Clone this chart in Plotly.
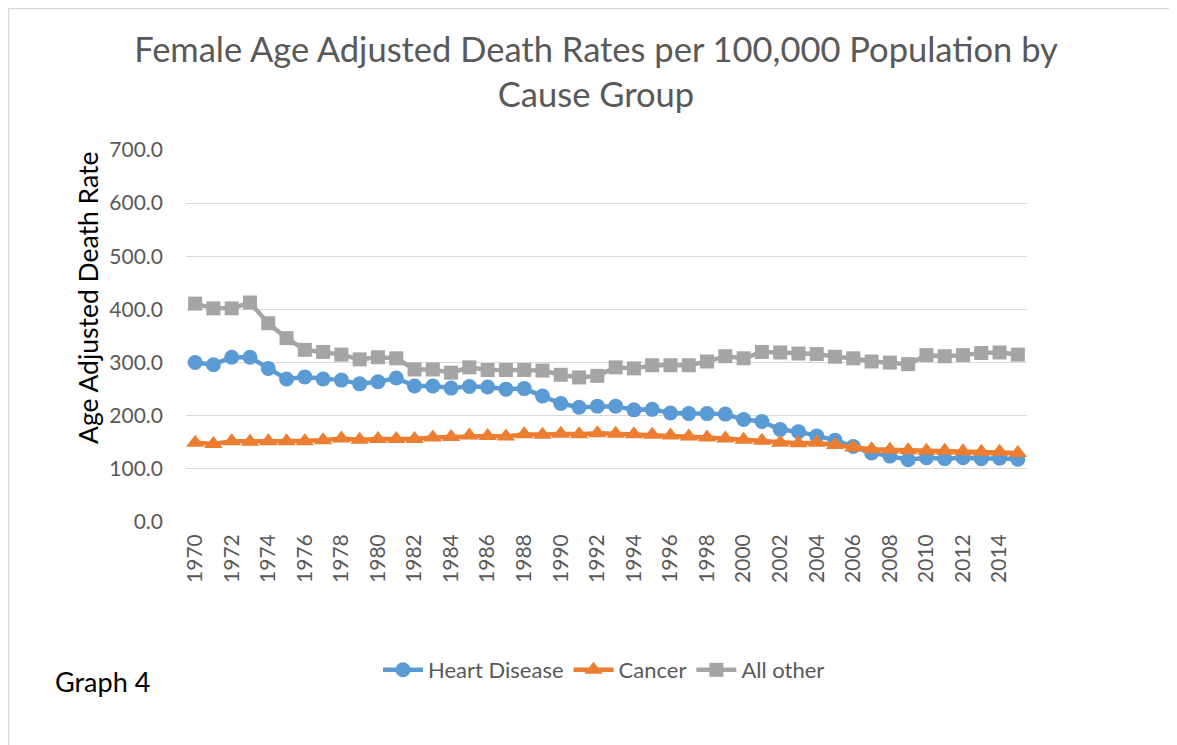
import plotly.graph_objects as go

years = list(range(1970, 2016))
heart_disease = [300, 296, 310, 310, 289, 269, 273, 269, 267, 260, 264, 271, 256, 256, 252,
                 255, 254, 250, 251, 237, 223, 216, 218, 218, 211, 212, 205, 204, 204, 203,
                 193, 189, 174, 170, 162, 154, 142, 130, 124, 117, 121, 119, 121, 119, 120, 118]
cancer = [149, 147, 152, 151, 152, 152, 152, 154, 157, 155, 156, 156, 156, 159, 160,
          163, 162, 161, 165, 164, 166, 165, 167, 166, 165, 164, 163, 161, 159, 157,
          155, 153, 149, 148, 149, 145, 140, 137, 136, 135, 134, 134, 133, 132, 132, 130]
all_other = [411, 402, 402, 413, 374, 346, 324, 320, 315, 306, 310, 308, 287, 287, 281,
             291, 286, 286, 286, 285, 277, 272, 275, 291, 289, 295, 295, 295, 302, 312,
             308, 320, 319, 317, 316, 311, 308, 302, 300, 297, 314, 312, 314, 318, 319, 315]

series = [
    ("Heart Disease", heart_disease, "#5B9BD5", "circle", 15),
    ("Cancer", cancer, "#ED7D31", "triangle-up", 16),
    ("All other", all_other, "#A5A5A5", "square", 14),
]

FONT = "Lato, Open Sans, sans-serif"
OFF = 8  # page body margin
W, H = 1177 - OFF, 745 - OFF
L, R, T, B = 178, 150, 142, 223
pw, ph = W - L - R, H - T - B


def px_x(x):
    # x in reference-image pixels -> paper coordinate
    return (x - OFF - L) / pw


def px_y(y):
    return (H - B - (y - OFF)) / ph


fig = go.Figure()
for name, vals, color, sym, size in series:
    fig.add_trace(go.Scatter(
        x=years, y=vals, name=name, mode="lines+markers",
        line=dict(color=color, width=4.5),
        marker=dict(symbol=sym, size=size, color=color),
    ))

fig.update_layout(
    width=W, height=H,
    margin=dict(l=L, r=R, t=T, b=B),
    paper_bgcolor="white", plot_bgcolor="white",
    font=dict(family=FONT, color="#595959"),
    title=dict(text="Female Age Adjusted Death Rates per 100,000 Population by<br>Cause Group",
               x=(596 - OFF) / W, xanchor="center", y=1 - (62 - OFF) / H, yanchor="middle",
               font=dict(size=34.5, color="#595959", family=FONT)),
    showlegend=True,
    legend=dict(orientation="h", x=px_x(604), xanchor="center", y=px_y(670), yanchor="middle",
                font=dict(size=22, color="#595959"), itemwidth=40, tracegroupgap=0),
    xaxis=dict(range=[1969.5, 2015.5], tickmode="array", tickvals=years[::2],
               ticktext=[str(y) for y in years[::2]], tickangle=-90,
               tickfont=dict(size=21, color="#595959"), showgrid=False, zeroline=False,
               showline=False, ticks="", ticklabelstandoff=7, fixedrange=True),
    yaxis=dict(range=[0, 700], tickmode="array", tickvals=list(range(0, 701, 100)),
               tickformat=".1f", tickfont=dict(size=21, color="#595959"),
               showgrid=True, gridcolor="#D9D9D9", gridwidth=1.3, zeroline=False,
               showline=False, ticks="", ticklabelstandoff=22),
)

fig.add_annotation(text="Age Adjusted Death Rate", textangle=-90,
                   x=px_x(88), y=px_y(298), xref="paper", yref="paper",
                   xanchor="center", yanchor="middle", showarrow=False,
                   font=dict(size=26.5, color="black", family=FONT))
fig.add_annotation(text="Graph 4", x=px_x(53), y=px_y(681), xref="paper", yref="paper",
                   xanchor="left", yanchor="middle", showarrow=False,
                   font=dict(size=27, color="black", family=FONT))

fig.add_shape(type="rect", xref="paper", yref="paper",
              x0=px_x(OFF + 0.7), x1=px_x(1200), y0=px_y(OFF + 0.7), y1=px_y(780),
              line=dict(color="#D9D9D9", width=1.3), fillcolor="rgba(0,0,0,0)", layer="below")

fig.write_html("out.html")
